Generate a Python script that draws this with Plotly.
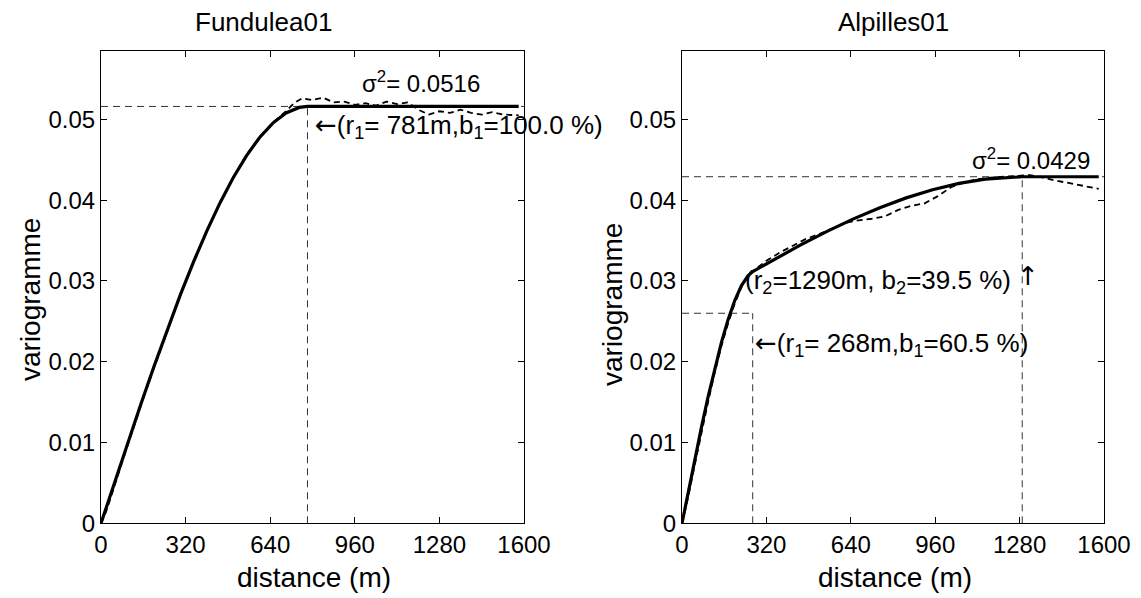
import plotly.graph_objects as go

# ---------------- data ----------------
# Fundulea01
f_model_h = [0, 50, 100, 150, 200, 250, 300, 350, 400, 450, 500, 550, 600, 650, 700, 750, 781, 900, 1000, 1100, 1200, 1300, 1400, 1500, 1580]
f_model_g = [0, 0.00495, 0.00986, 0.01468, 0.01939, 0.02393, 0.02827, 0.03236, 0.03617, 0.03966, 0.04278,
             0.04549, 0.04776, 0.04954, 0.05079, 0.05148, 0.0516, 0.0516, 0.0516, 0.0516, 0.0516, 0.0516,
             0.0516, 0.0516, 0.0516]
f_exp_h = [0, 20, 40, 60, 80, 100, 130, 160, 200, 250, 300, 350, 400, 450, 500, 550, 600, 650, 700, 730,
           760, 800, 840, 880, 920, 960, 1000, 1040, 1080, 1120, 1160, 1200, 1240, 1280, 1320, 1360, 1400,
           1440, 1480, 1520, 1560, 1580]
f_exp_g = [0, 0.0015, 0.0035, 0.0056, 0.0076, 0.0096, 0.0125, 0.0155, 0.0192, 0.0238, 0.0282, 0.0323,
           0.0361, 0.0396, 0.0428, 0.0456, 0.0478, 0.0496, 0.0510, 0.0520, 0.0526, 0.0524, 0.0527, 0.0521,
           0.0522, 0.0518, 0.0520, 0.0517, 0.0522, 0.0519, 0.0521, 0.0512, 0.0506, 0.0510, 0.0508, 0.0512,
           0.0508, 0.0506, 0.0509, 0.0506, 0.0505, 0.0505]
f_sill = 0.0516
f_r1 = 781

# Alpilles01
a_model_h = [0, 25, 50, 75, 100, 125, 150, 175, 200, 225, 250, 268, 350, 450, 550, 650, 750, 850, 950,
             1050, 1150, 1250, 1290, 1580]
a_model_g = [0, 0.00411, 0.00817, 0.01209, 0.01582, 0.01930, 0.02246, 0.02524, 0.02757, 0.02939, 0.03065,
             0.03116, 0.03268, 0.03446, 0.03613, 0.03768, 0.03907, 0.04028, 0.04129, 0.04208, 0.04261,
             0.04288, 0.0429, 0.0429]
a_exp_h = [0, 25, 50, 75, 100, 125, 150, 175, 200, 225, 250, 280, 320, 370, 420, 470, 520, 570, 620, 670,
           720, 770, 820, 870, 920, 970, 1020, 1070, 1120, 1170, 1220, 1270, 1320, 1370, 1420, 1470, 1520, 1580]
a_exp_g = [0, 0.0035, 0.0075, 0.0115, 0.0152, 0.0188, 0.0220, 0.0248, 0.0272, 0.0292, 0.0306, 0.0315,
           0.0325, 0.0335, 0.0344, 0.0352, 0.0358, 0.0365, 0.0372, 0.0375, 0.0377, 0.0380, 0.0388, 0.0393,
           0.0396, 0.0405, 0.0416, 0.0422, 0.0426, 0.0428, 0.0429, 0.0430, 0.0431, 0.0428, 0.0424, 0.0421,
           0.0418, 0.0414]
a_sill = 0.0429
a_r1 = 268
a_b1_level = 0.0260
a_r2 = 1290

titles = ["Fundulea01", "Alpilles01"]
x_ticks = [0, 320, 640, 960, 1280, 1600]
y_ticks = [0, 0.01, 0.02, 0.03, 0.04, 0.05]
y_tick_text = ["0", "0.01", "0.02", "0.03", "0.04", "0.05"]
x_label = "distance (m)"
y_label = "variogramme"

# ---------------- figure ----------------
W, H = 1141, 598
FONT = "Liberation Sans, Arial, Helvetica, sans-serif"
fig = go.Figure()

ref = dict(color="#333333", width=1, dash="7px,5px")
solid = dict(color="black", width=3.2)
dashed = dict(color="black", width=1.8, dash="6px,4px")

def add(x, y, line, ax):
    fig.add_trace(go.Scatter(x=x, y=y, mode="lines", line=line, xaxis=ax[0], yaxis=ax[1],
                             showlegend=False, hoverinfo="skip"))

# left panel
axL = ("x", "y")
add([0, 1600], [f_sill, f_sill], ref, axL)
add([f_r1, f_r1], [0, f_sill], ref, axL)
add(f_exp_h, f_exp_g, dashed, axL)
add(f_model_h, f_model_g, solid, axL)

# right panel
axR = ("x2", "y2")
add([0, 1600], [a_sill, a_sill], ref, axR)
add([0, a_r1], [a_b1_level, a_b1_level], ref, axR)
add([a_r1, a_r1], [0, a_b1_level], ref, axR)
add([a_r2, a_r2], [0, a_sill], ref, axR)
add(a_exp_h, a_exp_g, dashed, axR)
add(a_model_h, a_model_g, solid, axR)

# axes geometry (pixels -> paper)
L_x0, L_x1 = 101, 524
R_x0, R_x1 = 682, 1104
Y_top, Y_bot = 50.7, 523.3
dom_y = [(H - Y_bot) / H, (H - Y_top) / H]

axis_common = dict(showline=True, linecolor="black", linewidth=1, mirror="ticks", ticks="inside",
                   ticklen=6, tickcolor="black", showgrid=False, zeroline=False, automargin=False,
                   tickfont=dict(family=FONT, size=24, color="black"))

fig.update_layout(
    width=W, height=H, margin=dict(l=0, r=0, t=0, b=0, autoexpand=False),
    paper_bgcolor="white", plot_bgcolor="white",
    font=dict(family=FONT, color="black"),
    xaxis=dict(domain=[L_x0 / W, L_x1 / W], range=[0, 1600], tickvals=x_ticks, anchor="y", **axis_common),
    yaxis=dict(domain=dom_y, range=[0, 0.0585], tickvals=y_ticks, ticktext=y_tick_text, anchor="x", **axis_common),
    xaxis2=dict(domain=[R_x0 / W, R_x1 / W], range=[0, 1600], tickvals=x_ticks, anchor="y2", **axis_common),
    yaxis2=dict(domain=dom_y, range=[0, 0.0585], tickvals=y_ticks, ticktext=y_tick_text, anchor="x2", **axis_common),
)

ann = []
def txt(text, x, y, xref, yref, size=24, xanchor="center", yanchor="middle", angle=0):
    ann.append(dict(text=text, x=x, y=y, xref=xref, yref=yref, showarrow=False, xanchor=xanchor,
                    yanchor=yanchor, textangle=angle, font=dict(family=FONT, size=size, color="black")))

ARW = '<span style="font-family:DejaVu Sans">{}</span>'

# titles
txt(titles[0], 263 / W, (H - 22) / H, "paper", "paper", size=26)
txt(titles[1], 893 / W, (H - 22) / H, "paper", "paper", size=26)
# axis labels
txt(x_label, 314 / W, (H - 577) / H, "paper", "paper", size=28)
txt(x_label, 895 / W, (H - 577) / H, "paper", "paper", size=28)
txt(y_label, 30 / W, (H - 300) / H, "paper", "paper", size=28, angle=-90)
txt(y_label, 612 / W, (H - 305) / H, "paper", "paper", size=28, angle=-90)

# annotations in data space
txt("σ<sup>2</sup>= 0.0516", 980, 0.0546, "x", "y", xanchor="left")
txt(ARW.format("←") + "(r<sub>1</sub>= 781m,b<sub>1</sub>=100.0 %)", 800, 0.0491, "x", "y", xanchor="left", size=26)
txt("σ<sup>2</sup>= 0.0429", 1092, 0.0451, "x2", "y2", xanchor="left")
txt("(r<sub>2</sub>=1290m, b<sub>2</sub>=39.5 %)", 231, 0.0299, "x2", "y2", xanchor="left", size=26)
txt(ARW.format("↑"), 1311, 0.0306, "x2", "y2", xanchor="center", size=26)
txt(ARW.format("←") + "(r<sub>1</sub>= 268m,b<sub>1</sub>=60.5 %)", 269, 0.0221, "x2", "y2", xanchor="left", size=26)

fig.update_layout(annotations=ann)
fig.write_html(
    "out.html",
    config={"displayModeBar": False},
    post_script="document.body.style.margin='0';document.body.style.padding='0';"
                "document.body.style.overflow='hidden';",
)
